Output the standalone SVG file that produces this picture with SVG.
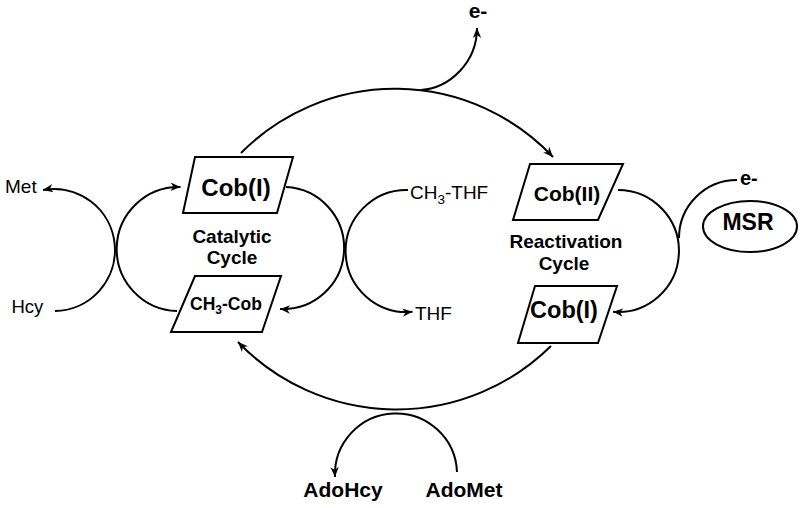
<svg xmlns="http://www.w3.org/2000/svg" width="800" height="508" viewBox="0 0 800 508">
<style>
.box{fill:#fff;stroke:#000;stroke-width:2}
.ln{fill:none;stroke:#000;stroke-width:2}
.arr{marker-end:url(#ah)}
text{font-family:"Liberation Sans",Arial,Helvetica,sans-serif;fill:#000}
.b{font-weight:bold}
.m{text-anchor:middle}
</style>
<defs>
<marker id="ah" viewBox="-11 -5 12 10" refX="0" refY="0" markerWidth="12" markerHeight="10" markerUnits="userSpaceOnUse" orient="auto">
<path d="M0,0 L-10,-4.2 L-7,0 L-10,4.2 Z" fill="#000"/>
</marker>
</defs>
<rect width="800" height="508" fill="#fff"/>
<g id="connectors">
<path class="ln arr" d="M241 153 A217 217 0 0 1 553 157"/>
<path class="ln arr" d="M421 90 C450 88 477 62 477 28"/>
<path class="ln arr" d="M551 346 A220 220 0 0 1 238 342"/>
<path class="ln arr" d="M457 472 A61 61 0 1 0 335 477"/>
<path class="ln arr" d="M286 187 A61 61 0 1 1 280 309"/>
<path class="ln arr" d="M408 190 A61 61 0 1 0 412.5 311.7"/>
<path class="ln arr" d="M55 311 A61 61 0 1 0 43 190"/>
<path class="ln arr" d="M177 311 A62 62 0 1 1 180.5 187"/>
<path class="ln arr" d="M618 190 A61 61 0 1 1 613 311.8"/>
<path class="ln" d="M737 180 A58 58 0 0 0 679 238"/>
</g>
<g id="cob1">
<polygon class="box" points="195,157 293,157 277,213 183,213"/>
<text class="b m" x="236" y="196" font-size="24">Cob(I)</text>
</g>
<g id="ch3cob">
<polygon class="box" points="195,276 281,276 262,332 171,332"/>
<text class="b m" x="226" y="310" font-size="17.5">CH<tspan font-size="12" dy="4">3</tspan><tspan dy="-4">-Cob</tspan></text>
</g>
<g id="catalytic">
<text class="b m" x="232" y="243" font-size="19">Catalytic</text>
<text class="b m" x="232" y="264" font-size="19">Cycle</text>
</g>
<g id="cob2">
<polygon class="box" points="530,164 623,164 598,220 513,220"/>
<text class="b m" x="567" y="201" font-size="21">Cob(II)</text>
</g>
<g id="reactivation">
<text class="b m" x="566" y="248" font-size="19">Reactivation</text>
<text class="b m" x="564" y="270" font-size="19">Cycle</text>
</g>
<g id="cob1r">
<polygon class="box" points="535,286 617,286 598,343 518,343"/>
<text class="b m" x="564" y="318" font-size="23.5">Cob(I)</text>
</g>
<g id="msr">
<ellipse class="box" cx="750" cy="226.5" rx="47" ry="25.5"/>
<text class="b m" x="748" y="230" font-size="23">MSR</text>
</g>
<g id="e-msr"><text class="b" x="740" y="185" font-size="20">e-</text></g>
<g id="e-top"><text class="b m" x="478" y="18" font-size="21">e-</text></g>
<g id="ch3thf"><text x="410" y="199" font-size="19">CH<tspan font-size="13.5" dy="5">3</tspan><tspan dy="-5">-THF</tspan></text></g>
<g id="thf"><text x="415" y="320" font-size="19">THF</text></g>
<g id="met"><text x="5" y="193" font-size="19">Met</text></g>
<g id="hcy"><text x="11.5" y="313" font-size="18.5">Hcy</text></g>
<g id="adohcy"><text class="b m" x="343" y="497" font-size="21">AdoHcy</text></g>
<g id="adomet"><text class="b m" x="464" y="497" font-size="21">AdoMet</text></g>
</svg>
